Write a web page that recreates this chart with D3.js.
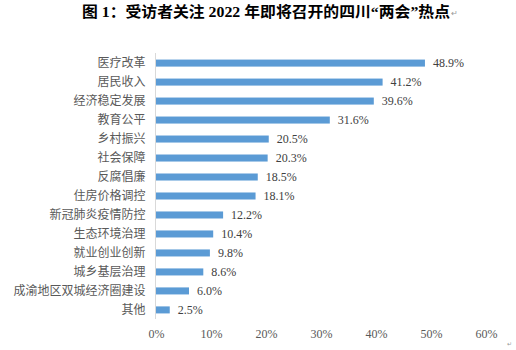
<!DOCTYPE html>
<html>
<head>
<meta charset="utf-8">
<script src="https://cdn.jsdelivr.net/npm/d3@7"></script>
<style>
  html, body { margin: 0; padding: 0; background: #fff; }
  svg { display: block; }
</style>
</head>
<body>
<svg id="chart" width="516" height="350"></svg>
<script>
// Topics and the share of respondents who picked each one (%)
const categories = [
  "医疗改革", "居民收入", "经济稳定发展", "教育公平", "乡村振兴", "社会保障", "反腐倡廉",
  "住房价格调控", "新冠肺炎疫情防控", "生态环境治理", "就业创业创新", "城乡基层治理",
  "成渝地区双城经济圈建设", "其他"
];
const values = [48.9, 41.2, 39.6, 31.6, 20.5, 20.3, 18.5, 18.1, 12.2, 10.4, 9.8, 8.6, 6.0, 2.5];
const ticks = [0, 10, 20, 30, 40, 50, 60];
const title = "图 1：受访者关注 2022 年即将召开的四川“两会”热点";

const svg = d3.select("#chart");
const serif = "'Liberation Serif', 'Times New Roman', 'Noto Sans CJK SC', serif";
const sans = "'Noto Sans CJK SC', 'Microsoft YaHei', sans-serif";

const x = d3.scaleLinear().domain([0, 60]).range([156, 486]);
const y = d3.scaleBand().domain(categories).range([53.5, 319.5]).paddingInner(0.63).paddingOuter(0.32);

// Title
svg.append("text")
  .attr("x", 82).attr("y", 17)
  .attr("font-family", serif)
  .attr("font-weight", "bold")
  .attr("font-size", 15)
  .attr("fill", "#000")
  .attr("textLength", 368)
  .attr("lengthAdjust", "spacingAndGlyphs")
  .text(title);
svg.append("text")
  .attr("x", 451).attr("y", 16)
  .attr("font-family", sans).attr("font-size", 8).attr("fill", "#999")
  .text("↵");

// Bars
svg.append("g").selectAll("rect")
  .data(values)
  .join("rect")
  .attr("x", x(0))
  .attr("y", (d, i) => y(categories[i]))
  .attr("width", d => x(d) - x(0))
  .attr("height", y.bandwidth())
  .attr("fill", "#5b9bd5");

// Value labels
svg.append("g").selectAll("text")
  .data(values)
  .join("text")
  .attr("x", d => x(d) + 8)
  .attr("y", (d, i) => y(categories[i]) + y.bandwidth() / 2)
  .attr("dy", "0.36em")
  .attr("font-family", serif)
  .attr("font-size", 12)
  .attr("fill", "#404040")
  .text(d => d.toFixed(1) + "%");

// Category axis
const yAxis = svg.append("g")
  .attr("transform", `translate(155.5,0)`)
  .call(d3.axisLeft(y).tickSize(0).tickPadding(10));
yAxis.select(".domain").attr("stroke", "#d9d9d9").attr("d", "M0,53V319");
yAxis.selectAll("text")
  .attr("font-family", sans)
  .attr("font-size", 12)
  .attr("fill", "#595959");

// Value axis (labels only)
const xAxis = svg.append("g")
  .attr("transform", `translate(0,319)`)
  .call(d3.axisBottom(x).tickValues(ticks).tickSize(0).tickPadding(10).tickFormat(d => d + "%"));
xAxis.select(".domain").remove();
xAxis.selectAll("text")
  .attr("font-family", serif)
  .attr("font-size", 12)
  .attr("fill", "#595959");

// Trailing paragraph mark
svg.append("text")
  .attr("x", 507).attr("y", 346)
  .attr("font-family", sans).attr("font-size", 6).attr("fill", "#999")
  .text("↵");
</script>
</body>
</html>
